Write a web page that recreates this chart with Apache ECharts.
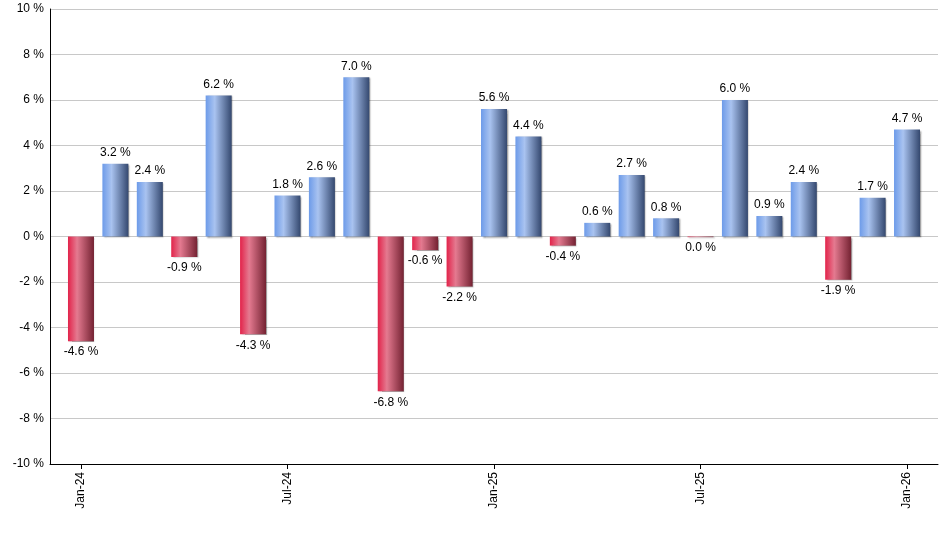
<!DOCTYPE html>
<html><head><meta charset="utf-8">
<script src="https://cdn.jsdelivr.net/npm/echarts@6/dist/echarts.min.js"></script>
<style>html,body{margin:0;padding:0;background:#fff}#c{width:940px;height:550px}</style>
</head><body><div id="c"></div>
<script>
const months = ['Jan-24','Feb-24','Mar-24','Apr-24','May-24','Jun-24','Jul-24','Aug-24','Sep-24','Oct-24','Nov-24','Dec-24',
  'Jan-25','Feb-25','Mar-25','Apr-25','May-25','Jun-25','Jul-25','Aug-25','Sep-25','Oct-25','Nov-25','Dec-25','Jan-26'];
const values = [-4.6,3.2,2.4,-0.9,6.2,-4.3,1.8,2.6,7.0,-6.8,-0.6,-2.2,5.6,4.4,-0.4,0.6,2.7,0.8,-0.03,6.0,0.9,2.4,-1.9,1.7,4.7];
const tickIndexes = [0,6,12,18,24];
const yTicks = [-10,-8,-6,-4,-2,0,2,4,6,8,10];

const blue = new echarts.graphic.LinearGradient(0,0,1,0,[
  {offset:0,color:'#6d9be9'},{offset:0.35,color:'#a9c3f0'},{offset:1,color:'#34486f'}]);
const red = new echarts.graphic.LinearGradient(0,0,1,0,[
  {offset:0,color:'#e2234a'},{offset:0.35,color:'#e47a90'},{offset:1,color:'#742232'}]);

const fmt = v => { const r = Math.round(v*10)/10; return (r === 0 ? 0 : r).toFixed(1) + ' %'; };

const data = values.map((v,i) => ({
  value: [i, v],
  itemStyle: {color: v > 0 ? blue : red},
  label: {position: v > 0 ? 'top' : 'bottom'}
}));

const chart = echarts.init(document.getElementById('c'));
chart.setOption({
  animation: false,
  grid: {left: 50, right: 2, top: 9, bottom: 86},
  xAxis: {
    type: 'value', min: -0.9, max: 24.9,
    splitLine: {show: false},
    axisLine: {show: true, onZero: false, lineStyle: {color: '#000', width: 1}},
    axisTick: {show: true, length: 5, lineStyle: {color: '#000'}, customValues: tickIndexes},
    axisLabel: {
      customValues: tickIndexes, rotate: 90, margin: 8,
      fontFamily: 'Liberation Sans', fontSize: 12, color: '#000',
      formatter: v => months[Math.round(v)]
    }
  },
  yAxis: {
    type: 'value', min: yTicks[0], max: yTicks[yTicks.length-1], interval: 2,
    axisLine: {show: true, onZero: false, lineStyle: {color: '#000', width: 1}},
    axisTick: {show: false},
    splitLine: {lineStyle: {color: '#c8c8c8', width: 1}},
    axisLabel: {
      margin: 6, fontFamily: 'Liberation Sans', fontSize: 12, color: '#000',
      formatter: v => v + ' %'
    }
  },
  series: [{
    type: 'bar',
    barWidth: 26,
    data: data,
    itemStyle: {shadowColor: 'rgba(0,0,0,0.35)', shadowOffsetX: 1.5, shadowOffsetY: 1, shadowBlur: 1.5},
    label: {
      show: true, distance: 5, fontFamily: 'Liberation Sans', fontSize: 12, color: '#000',
      formatter: p => fmt(p.value[1])
    }
  }]
});
</script></body></html>
